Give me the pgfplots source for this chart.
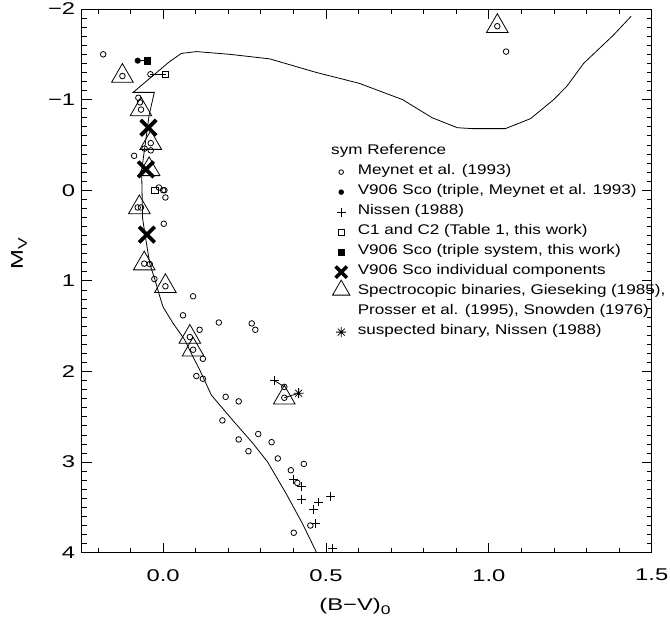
\documentclass[border=0pt]{standalone}
\usepackage{pgfplots}
\pgfplotsset{compat=1.18}
\usepackage{fontspec}
\setmainfont{Liberation Sans}
\newfontfamily\idlfont{Liberation Sans}[FakeStretch=1.22]
\newfontfamily\idltick{Liberation Sans}[FakeStretch=1.4]
\newcommand\tickfont{\idltick\fontsize{17bp}{19bp}\selectfont}
\newcommand\legfont{\idlfont\fontsize{14bp}{16bp}\selectfont}
\pgfdeclareplotmark{ast8}{%
  \pgfpathmoveto{\pgfqpoint{-\pgfplotmarksize}{0pt}}\pgfpathlineto{\pgfqpoint{\pgfplotmarksize}{0pt}}%
  \pgfpathmoveto{\pgfqpoint{0pt}{-\pgfplotmarksize}}\pgfpathlineto{\pgfqpoint{0pt}{\pgfplotmarksize}}%
  \pgfpathmoveto{\pgfqpoint{-.707\pgfplotmarksize}{-.707\pgfplotmarksize}}\pgfpathlineto{\pgfqpoint{.707\pgfplotmarksize}{.707\pgfplotmarksize}}%
  \pgfpathmoveto{\pgfqpoint{-.707\pgfplotmarksize}{.707\pgfplotmarksize}}\pgfpathlineto{\pgfqpoint{.707\pgfplotmarksize}{-.707\pgfplotmarksize}}%
  \pgfusepathqstroke}
\begin{document}
\begin{tikzpicture}
\begin{axis}[
  at={(0,0)}, anchor=south west,
  scale only axis, width=570bp, height=543.7bp,
  xmin=-0.25, xmax=1.5, ymin=-2, ymax=4, y dir=reverse,
  axis line style={line width=0.9bp},
  xtick={0,0.5,1,1.5}, xticklabels={0.0,0.5,1.0,1.5},
  minor xtick={-0.2,-0.1,0.1,0.2,0.3,0.4,0.6,0.7,0.8,0.9,1.1,1.2,1.3,1.4},
  ytick={-2,-1,0,1,2,3,4}, yticklabels={−2,−1,0,1,2,3,4},
  minor y tick num=9,
  tick align=inside,
  major tick length=10bp, minor tick length=5bp,
  every tick/.style={black, line width=0.8bp},
  tick label style={font=\tickfont},
  xticklabel style={yshift=-13bp},
  yticklabel style={xshift=-3bp},
  xlabel={(B−V)\raisebox{-0.45ex}{\fontsize{12.5bp}{13bp}\selectfont 0}},
  xlabel style={font=\tickfont, at={(axis description cs:0.4795,-0.098)}, anchor=center},
  ylabel={M\raisebox{-0.45ex}{\fontsize{12.5bp}{13bp}\selectfont V}},
  ylabel style={font=\tickfont, at={(axis description cs:-0.11,0.55)}, anchor=center},
  clip=false,
  legend cell align=left,
  legend style={draw=none, fill=none, at={(axis cs:0.5093,-0.26)}, anchor=north west,
    inner sep=0pt, row sep=9.5bp, column sep=4.6bp, font=\legfont,
    nodes={inner sep=0pt, text height=8bp, text depth=2.5bp}},
  legend image code/.code={\pgfpathrectangle{\pgfqpoint{-12bp}{-3bp}}{\pgfqpoint{24bp}{6bp}}\pgfusepath{discard}\draw[overlay,#1] plot coordinates {(0bp,0bp)};},
]
% isochrone
\addplot[black, line width=0.8bp, forget plot] coordinates {
(0.470,3.99) (0.428,3.68) (0.378,3.35) (0.321,3.00) (0.275,2.79) (0.214,2.54)
(0.148,2.26) (0.112,1.98) (0.092,1.84) (0.066,1.65) (0.031,1.47) (0.000,1.29)
(-0.010,1.175) (-0.025,0.99) (-0.041,0.81) (-0.056,0.48) (-0.063,0.31)
(-0.066,-0.22) (-0.056,-0.48) (-0.043,-0.83) (-0.027,-1.08) (-0.092,-1.08)
(0.020,-1.42) (0.056,-1.51) (0.102,-1.53) (0.204,-1.50) (0.327,-1.45)
(0.470,-1.30) (0.602,-1.18) (0.735,-1.00) (0.826,-0.80) (0.903,-0.69)
(0.949,-0.68) (1.051,-0.68) (1.128,-0.79) (1.199,-1.00) (1.240,-1.15)
(1.291,-1.40) (1.382,-1.71) (1.437,-1.92)};
% connectors
\addplot[black, line width=0.8bp, forget plot] coordinates {(-0.078,-1.43) (-0.048,-1.43)};
\addplot[black, line width=0.8bp, forget plot] coordinates {(-0.039,-1.28) (0.008,-1.28)};
\addplot[black, line width=0.8bp, forget plot] coordinates {(0.342,2.10) (0.372,2.17)};
\addplot[black, line width=0.8bp, forget plot] coordinates {(0.372,2.29) (0.416,2.24)};
% Meynet circles
\addplot[only marks, mark=o, mark size=2.8bp, mark options={line width=0.8bp, fill=white}, forget plot] coordinates {
(-0.184,-1.50) (1.053,-1.53) (1.026,-1.81) (-0.125,-1.26) (-0.039,-1.28)
(-0.076,-1.02) (-0.071,-0.97) (-0.068,-0.89) (-0.038,-0.52) (-0.057,-0.46)
(-0.038,-0.44) (-0.089,-0.38) (-0.013,-0.03) (0.000,0.00) (0.004,0.00)
(0.007,0.08) (-0.078,0.19) (-0.068,0.19) (0.002,0.37) (-0.058,0.81)
(-0.041,0.815) (-0.027,0.98) (0.007,1.06) (0.092,1.17) (0.061,1.38)
(0.171,1.46) (0.272,1.47) (0.283,1.54) (0.112,1.54) (0.082,1.62)
(0.092,1.76) (0.122,1.86) (0.102,2.05) (0.122,2.08) (0.372,2.17)
(0.372,2.29) (0.192,2.28) (0.232,2.33) (0.182,2.54) (0.232,2.75)
(0.292,2.69) (0.262,2.88) (0.333,2.78) (0.352,2.96) (0.432,3.02)
(0.392,3.09) (0.412,3.23) (0.452,3.70) (0.401,3.78)};
% V906 Sco Meynet
\addplot[only marks, mark=*, mark size=2.8bp, forget plot] coordinates {(-0.078,-1.43)};
% Nissen
\addplot[only marks, mark=+, mark size=4.4bp, mark options={line width=0.9bp}, forget plot] coordinates {
(0.342,2.10) (0.400,3.19) (0.424,3.27) (0.426,3.41) (0.515,3.38) (0.477,3.44)
(0.462,3.52) (0.467,3.68) (0.520,3.95)};
% C1 C2
\addplot[only marks, mark=square, mark size=3.1bp, mark options={line width=0.8bp, fill=white}, forget plot] coordinates {(0.008,-1.28) (-0.025,0.005)};
% V906 triple this work
\addplot[only marks, mark=square*, mark size=3.1bp, forget plot] coordinates {(-0.048,-1.43)};
% components
\addplot[only marks, mark=x, mark size=11bp, mark options={line width=3.8bp}, forget plot] coordinates {(-0.045,-0.69) (-0.053,-0.23) (-0.050,0.49)};
% spectroscopic binaries
\addplot[only marks, mark=triangle, mark size=12.5bp, mark options={line width=0.8bp}, forget plot] coordinates {
(-0.125,-1.26) (-0.068,-0.89) (-0.038,-0.52) (-0.043,-0.23) (-0.073,0.19)
(-0.058,0.81) (0.007,1.06) (0.082,1.62) (0.092,1.76) (0.372,2.29) (1.026,-1.81)};
% suspected binary
\addplot[only marks, mark=ast8, mark size=5bp, mark options={line width=0.8bp}, forget plot] coordinates {(0.416,2.24)};
% legend
\addlegendimage{only marks, mark=o, mark size=2.3bp, mark options={line width=0.8bp}}
\addlegendentry{Meynet et al. (1993)}
\addlegendimage{only marks, mark=*, mark size=2.5bp}
\addlegendentry{V906 Sco (triple, Meynet et al. 1993)}
\addlegendimage{only marks, mark=+, mark size=4.4bp, mark options={line width=0.9bp}}
\addlegendentry{Nissen (1988)}
\addlegendimage{only marks, mark=square, mark size=3.1bp, mark options={line width=0.8bp}}
\addlegendentry{C1 and C2 (Table 1, this work)}
\addlegendimage{only marks, mark=square*, mark size=3.1bp}
\addlegendentry{V906 Sco (triple system, this work)}
\addlegendimage{only marks, mark=x, mark size=8bp, mark options={line width=3.5bp}}
\addlegendentry{V906 Sco individual components}
\addlegendimage{only marks, mark=triangle, mark size=10bp, mark options={line width=0.8bp, yshift=2bp}}
\addlegendentry{Spectrocopic binaries, Gieseking (1985),}
\addlegendimage{empty legend}
\addlegendentry{Prosser et al. (1995), Snowden (1976)}
\addlegendimage{only marks, mark=ast8, mark size=5bp, mark options={line width=0.8bp}}
\addlegendentry{suspected binary, Nissen (1988)}
\node[anchor=base west, font=\legfont, inner sep=0pt] at (axis cs:0.5155,-0.39) {sym Reference};
\end{axis}
\pgfresetboundingbox
\path[use as bounding box] (-81.7bp,-65.3bp) rectangle (588.3bp,552.7bp);
\end{tikzpicture}
\end{document}
